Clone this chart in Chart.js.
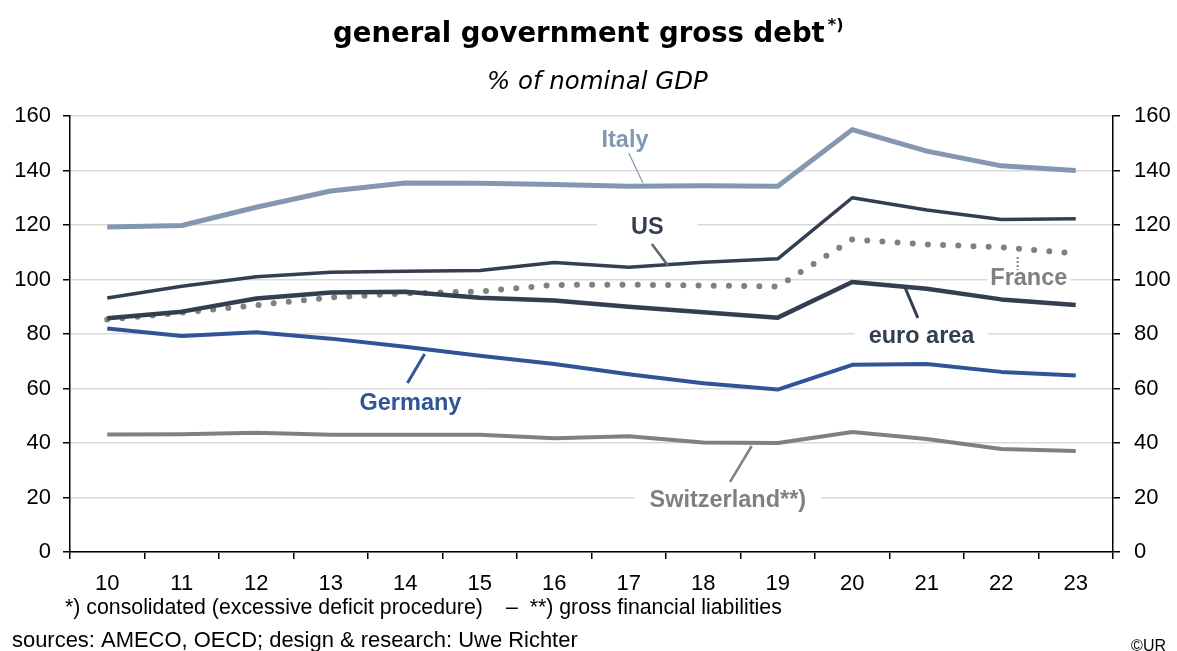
<!DOCTYPE html>
<html><head><meta charset="utf-8">
<script src="https://cdn.jsdelivr.net/npm/chart.js@4"></script>
<style>html,body{margin:0;padding:0;background:#fff}#wrap{width:1177px;height:651px;position:relative}</style>
</head><body><div id="wrap"><canvas id="c" width="1177" height="651"></canvas></div>
<script>
const years = ['10','11','12','13','14','15','16','17','18','19','20','21','22','23'];
const yTicks = [0,20,40,60,80,100,120,140,160];
const italy = [119.3,119.8,126.5,132.5,135.4,135.3,134.9,134.2,134.4,134.2,155.0,147.1,141.7,140.0];
const us = [93.2,97.5,101.0,102.7,103.0,103.3,106.2,104.5,106.3,107.6,130.0,125.5,122.0,122.3];
const france = [85.3,87.8,90.6,93.4,94.9,95.6,98.0,98.1,97.8,97.4,114.7,112.9,111.8,109.6];
const euroArea = [85.8,88.2,93.0,95.2,95.5,93.3,92.3,90.0,88.0,86.0,99.1,96.6,92.7,90.6];
const germany = [82.0,79.3,80.6,78.3,75.3,72.0,69.0,65.2,61.9,59.6,68.7,69.0,66.1,64.8];
const switzerland = [43.1,43.2,43.8,43.0,43.0,43.0,41.7,42.5,40.2,40.0,44.0,41.5,37.8,37.1];

const C_ITALY='#8497b0', C_DARK='#333f50', C_GER='#2f5597', C_GRAY='#808080';
const FONT='"Liberation Sans", Arial, sans-serif';
const VFONT='"DejaVu Sans", Verdana, sans-serif';

// label annotations: text, position in (category index, value), leader line
const labels = [
  {t:'Italy', x:6.95, y:151.2, c:C_ITALY, pad:0, line:[7.0,146.4,7.19,135.4], lc:C_ITALY, lw:1.2},
  {t:'US', x:7.25, y:119.6, c:C_DARK, pad:34, line:[7.31,113,7.53,105], lc:'#666', lw:2.5},
  {t:'France', x:12.37, y:100.9, c:C_GRAY, pad:3, line:[12.22,108.3,12.22,103.5], lc:C_GRAY, lw:2, dash:[2,2]},
  {t:'euro area', x:10.93, y:79.3, c:C_DARK, pad:14, line:[10.7,97.6,10.88,85.9], lc:C_DARK, lw:3},
  {t:'Germany', x:4.07, y:54.7, c:C_GER, pad:34, line:[4.26,72.7,4.03,62], lc:C_GER, lw:3},
  {t:'Switzerland**)', x:8.33, y:19.4, c:C_GRAY, pad:15, line:[8.65,38.9,8.36,25.7], lc:C_GRAY, lw:2.5}
];
const LABEL_FONT = 'bold 23.5px '+FONT;

function fit(ctx, text, style, family, target){
  ctx.font = style+' 100px '+family;
  const w = ctx.measureText(text).width;
  return style+' '+(100*target/w).toFixed(2)+'px '+family;
}

const annot = {
  id:'annot',
  beforeDatasetsDraw(chart){
    const ctx=chart.ctx, xs=chart.scales.x, ys=chart.scales.y;
    ctx.save();
    ctx.font=LABEL_FONT;
    labels.forEach(l=>{
      const w=ctx.measureText(l.t).width;
      const px=xs.getPixelForValue(l.x), py=ys.getPixelForValue(l.y);
      ctx.fillStyle='#fff';
      ctx.fillRect(px-w/2-l.pad, py-13, w+2*l.pad, 26);
    });
    ctx.restore();
  },
  afterDatasetsDraw(chart){
    const ctx=chart.ctx, xs=chart.scales.x, ys=chart.scales.y;
    ctx.save();
    labels.forEach(l=>{
      ctx.beginPath();
      ctx.strokeStyle=l.lc; ctx.lineWidth=l.lw;
      ctx.setLineDash(l.dash||[]);
      ctx.moveTo(xs.getPixelForValue(l.line[0]), ys.getPixelForValue(l.line[1]));
      ctx.lineTo(xs.getPixelForValue(l.line[2]), ys.getPixelForValue(l.line[3]));
      ctx.stroke();
      ctx.setLineDash([]);
      ctx.font=LABEL_FONT;
      ctx.fillStyle=l.c; ctx.textAlign='center'; ctx.textBaseline='middle';
      ctx.fillText(l.t, xs.getPixelForValue(l.x), ys.getPixelForValue(l.y)+1);
    });
    ctx.restore();
  },
  afterDraw(chart){
    const ctx=chart.ctx;
    ctx.save();
    ctx.fillStyle='#000';
    ctx.textBaseline='alphabetic';
    // title
    const t1='general government gross debt', t2='*)';
    const f1=fit(ctx,t1,'bold',VFONT,492);
    ctx.font=f1;
    const w1=ctx.measureText(t1).width;
    ctx.textAlign='left';
    ctx.fillText(t1,333,42);
    ctx.font='bold 16px '+VFONT;
    ctx.fillText(t2,333+w1+3,30);
    // subtitle
    ctx.font=fit(ctx,'% of nominal GDP','italic',VFONT,221); ctx.textAlign='left';
    ctx.fillText('% of nominal GDP',487,89);
    // footnotes
    ctx.font=fit(ctx,'*) consolidated (excessive deficit procedure)','',FONT,418);
    ctx.fillText('*) consolidated (excessive deficit procedure)',65,614);
    ctx.fillText('\u2013  **) gross financial liabilities',506,614);
    ctx.font=fit(ctx,'sources: AMECO, OECD; design & research: Uwe Richter','',FONT,566);
    ctx.fillText('sources: AMECO, OECD; design & research: Uwe Richter',12,647);
    ctx.font='16px '+FONT; ctx.textAlign='right';
    ctx.fillText('\u00A9UR',1166,651);
    ctx.restore();
  }
};

new Chart(document.getElementById('c'),{
  type:'line',
  data:{labels:years,datasets:[
    {label:'Italy',data:italy,borderColor:C_ITALY,borderWidth:5},
    {label:'US',data:us,borderColor:C_DARK,borderWidth:3.5},
    {label:'euro area',data:euroArea,borderColor:C_DARK,borderWidth:4.5},
    {label:'Germany',data:germany,borderColor:C_GER,borderWidth:4},
    {label:'Switzerland',data:switzerland,borderColor:C_GRAY,borderWidth:4},
    {label:'France',data:france,borderColor:C_GRAY,borderWidth:6,borderDash:[0,15.2],borderCapStyle:'round'}
  ]},
  options:{
    responsive:false,animation:false,
    elements:{point:{radius:0},line:{tension:0,borderJoinStyle:'round'}},
    layout:{padding:{top:116,left:0,right:0,bottom:0}},
    plugins:{legend:{display:false},tooltip:{enabled:false},title:{display:false}},
    scales:{
      x:{offset:true,
        grid:{offset:true,drawOnChartArea:false,drawTicks:true,tickLength:7,color:'#000',lineWidth:1.5},
        border:{display:true,color:'#000',width:1.5},
        ticks:{color:'#000',font:{family:FONT,size:22},padding:12,maxRotation:0,autoSkip:false},
        afterFit(s){s.height=99;}
      },
      y:{position:'left',min:0,max:160,
        afterBuildTicks(s){s.ticks=yTicks.map(v=>({value:v}));},
        grid:{color:'#d9d9d9',lineWidth:1.5,tickLength:7,tickColor:'#000',tickWidth:1.5},
        border:{display:true,color:'#000',width:1.5},
        ticks:{color:'#000',font:{family:FONT,size:22},padding:12},
        afterFit(s){s.width=70;}
      },
      y2:{position:'right',min:0,max:160,
        afterBuildTicks(s){s.ticks=yTicks.map(v=>({value:v}));},
        grid:{drawOnChartArea:false,tickLength:7,color:'#000',lineWidth:1.5},
        border:{display:true,color:'#000',width:1.5},
        ticks:{color:'#000',font:{family:FONT,size:22},padding:14},
        afterFit(s){s.width=64;}
      }
    }
  },
  plugins:[annot]
});
</script></body></html>
